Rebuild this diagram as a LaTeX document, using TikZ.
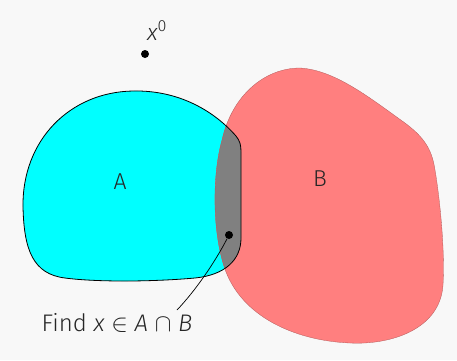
\documentclass[tikz,border=0pt]{standalone}
\usepackage{fontspec}
\setmainfont{Fira Sans}[UprightFont=* Light, ItalicFont=* Light Italic]
\begin{document}
\begin{tikzpicture}[x=1pt,y=-1pt,
  lbl/.style={font=\fontsize{23}{26}\selectfont, text=black!85},
  dot/.style={circle,fill=black,inner sep=0pt,minimum size=8pt}]
\definecolor{bgc}{RGB}{248,248,248}
\definecolor{setA}{RGB}{0,255,255}
\definecolor{setB}{RGB}{255,127,127}
\definecolor{inter}{RGB}{128,128,128}
\fill[bgc] (0,0) rectangle (457,360);
\useasboundingbox (0,0) rectangle (457,360);
\def\pathA{(23,207) .. controls (22,140) and (70,92) .. (133,91)
  .. controls (180,90) and (215,112) .. (236,136)
  .. controls (240,141) and (241,145) .. (241,152)
  -- (241,238)
  .. controls (241,260) and (225,275) .. (195,278)
  .. controls (150,282) and (95,282) .. (65,278)
  .. controls (33,274) and (24,250) .. (23,207) -- cycle}
\def\pathB{(300,68) .. controls (335,70) and (370,98) .. (405,123)
  .. controls (425,138) and (432,150) .. (435,170)
  .. controls (440,200) and (445,250) .. (443,285)
  .. controls (440,330) and (390,345) .. (350,343)
  .. controls (300,341) and (245,320) .. (226,272)
  .. controls (212,235) and (212,175) .. (222,140)
  .. controls (232,95) and (265,68) .. (300,68) -- cycle}
\fill[setA] \pathA;
\fill[setB] \pathB;
\begin{scope}
  \clip \pathA;
  \fill[inter] \pathB;
\end{scope}
\draw[setB!70!black, line width=0.3pt] \pathB;
\draw[black, line width=0.8pt] \pathA;
\node[lbl] (labA) at (120,182) {A};
\node[lbl] (labB) at (320,179) {B};
\node[dot] (x0) at (145,54) {};
\node[lbl] (x0lab) at (157,31) {\textit{x}\textsuperscript{0}};
\node[dot] (xs) at (229,235) {};
\node[lbl, font=\fontsize{24}{27}\selectfont] (find) at (117,323) {Find \textit{x} $\in$ \textit{A} $\cap$ \textit{B}};
\coordinate (fe) at (177,310);
\draw[black, line width=0.7pt] (xs) .. controls (215,262) and (196,290) .. (fe);
\end{tikzpicture}
\end{document}
